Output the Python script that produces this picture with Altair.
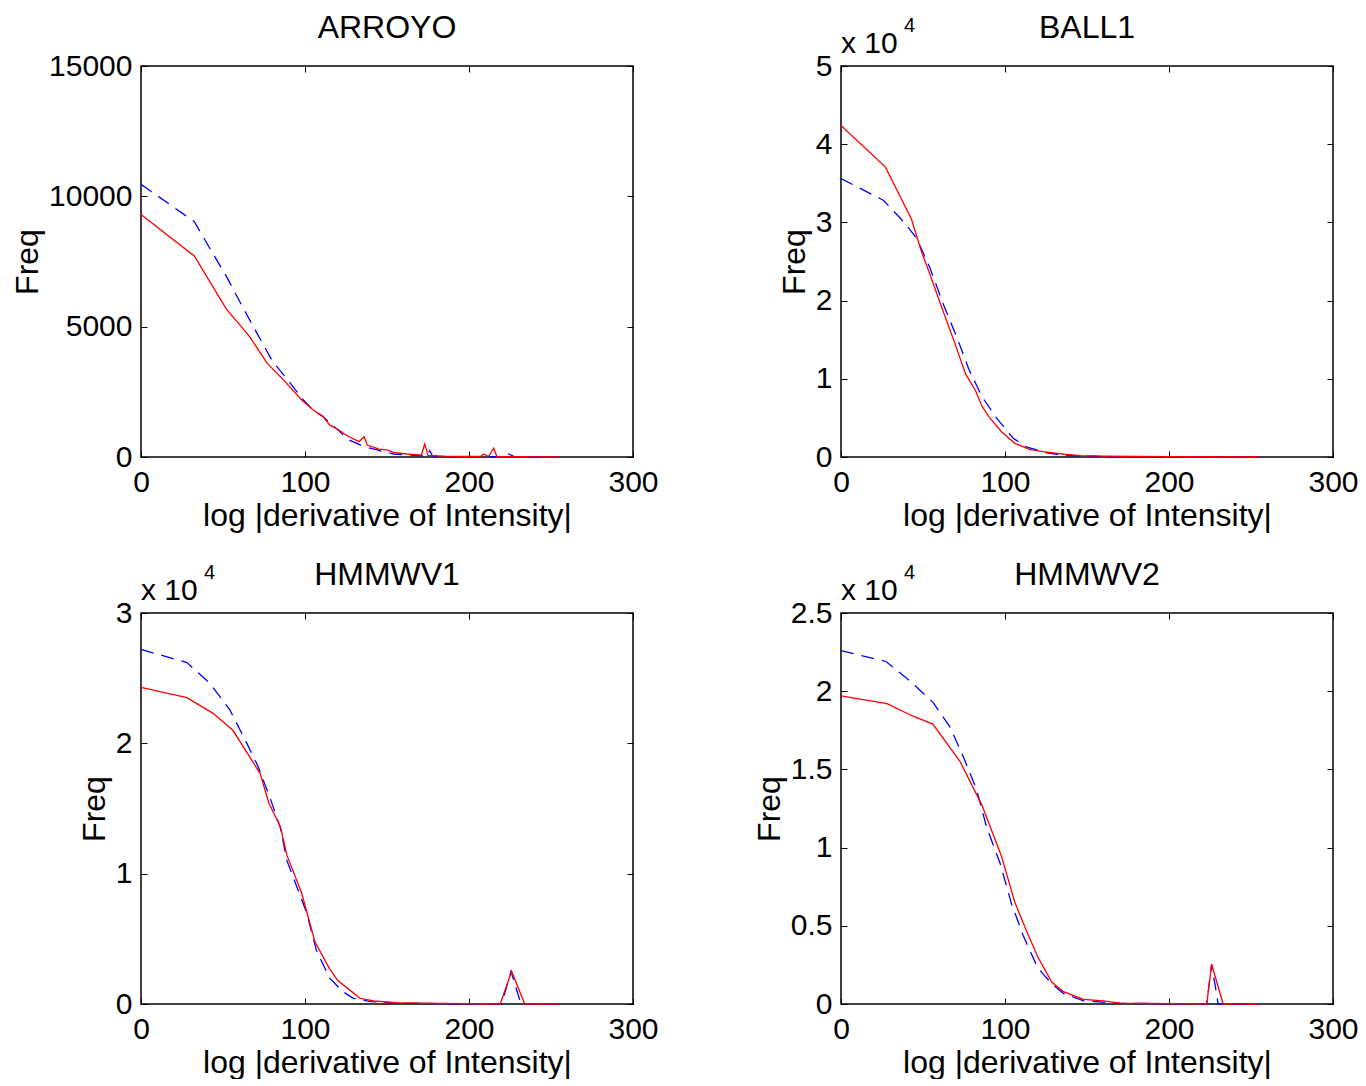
import altair as alt
import pandas as pd

FONT = "Liberation Sans"

# ---------------- data ----------------
panel_titles = ["ARROYO", "BALL1", "HMMWV1", "HMMWV2"]
divisors = [1, 10000, 10000, 10000]
y_max = [15000, 5, 3, 2.5]
y_ticks = [[0, 5000, 10000, 15000], [0, 1, 2, 3, 4, 5], [0, 1, 2, 3], [0, 0.5, 1, 1.5, 2, 2.5]]
x_ticks = [0, 100, 200, 300]
x_title = "log |derivative of Intensity|"
y_title = "Freq"

# ARROYO
arroyo_red_x = [0, 32.5, 52, 66, 77, 87, 98, 105, 111, 115, 120, 126, 133, 136, 138, 145, 150, 154, 162, 171, 173, 175, 185, 200, 207, 209, 212, 215, 217, 225, 240, 255]
arroyo_red_y = [9300, 7710, 5680, 4640, 3590, 2950, 2190, 1800, 1550, 1230, 1060, 805, 590, 780, 460, 300, 270, 180, 115, 75, 500, 60, 30, 20, 20, 115, 20, 335, 15, 10, 5, 0]
arroyo_blue_x = [0, 32.5, 42, 52, 61, 70.5, 80, 92, 98, 105, 111, 120, 126, 136, 144, 154, 164, 174, 176, 178, 200, 220, 224, 228, 255]
arroyo_blue_y = [10460, 9030, 8000, 6940, 5870, 4770, 3690, 2760, 2250, 1800, 1550, 1040, 680, 395, 270, 115, 77, 30, 240, 20, 10, 10, 115, 10, 0]

# BALL1
ball1_red_x = [0, 27, 43, 49, 54, 62, 69.5, 76, 82, 86, 90, 98, 106, 115, 123, 136, 146, 160, 200, 255]
ball1_red_y = [42400, 37100, 30400, 26300, 23500, 18800, 14500, 10600, 8500, 6500, 5200, 3200, 1750, 980, 680, 350, 180, 100, 50, 0]
ball1_blue_x = [0, 8.5, 26, 39, 46, 54, 63, 70.5, 78, 86, 95, 105, 113, 125, 136, 160, 255]
ball1_blue_y = [35600, 34700, 32800, 29900, 28000, 24300, 19200, 15400, 11200, 7700, 4950, 2400, 1300, 550, 200, 50, 0]

# HMMWV1
hmmwv1_red_x = [0, 28, 44, 56, 72.6, 78, 85, 89, 98, 106, 115, 120, 128.5, 133.5, 142, 156, 180, 219, 226, 234, 255]
hmmwv1_red_y = [24300, 23500, 22300, 21000, 17700, 15400, 13600, 11400, 8500, 4800, 2700, 1800, 950, 440, 230, 100, 50, 0, 2500, 0, 0]
hmmwv1_blue_x = [0, 28, 42, 54, 63, 71.5, 79, 85, 89, 95, 101, 107, 115, 123, 129.5, 140, 160, 220, 225.6, 231.7, 255]
hmmwv1_blue_y = [27200, 26200, 24600, 22600, 20400, 18200, 15700, 13500, 11000, 9000, 7000, 4100, 2000, 950, 440, 180, 50, 0, 2500, 0, 0]

# HMMWV2
hmmwv2_red_x = [0, 28, 44, 56, 72.6, 86, 98, 106, 113, 120, 128.5, 135.6, 148, 160, 170, 223, 226, 233, 255]
hmmwv2_red_y = [19700, 19200, 18400, 17900, 15500, 12700, 9400, 6500, 4700, 3000, 1400, 790, 300, 200, 50, 0, 2540, 0, 0]
hmmwv2_blue_x = [0, 27.4, 41.6, 56, 66.5, 74.6, 82.7, 88.8, 97, 104, 111, 120, 128.5, 135.6, 148, 170, 223, 226, 230, 255]
hmmwv2_blue_y = [22600, 21900, 20700, 19300, 17700, 15800, 13700, 11300, 9000, 6400, 4400, 2300, 1300, 680, 200, 50, 0, 2540, 0, 0]

series = [
    (arroyo_red_x, arroyo_red_y, arroyo_blue_x, arroyo_blue_y),
    (ball1_red_x, ball1_red_y, ball1_blue_x, ball1_blue_y),
    (hmmwv1_red_x, hmmwv1_red_y, hmmwv1_blue_x, hmmwv1_blue_y),
    (hmmwv2_red_x, hmmwv2_red_y, hmmwv2_blue_x, hmmwv2_blue_y),
]

W, H = 492, 391


def make_panel(i):
    rx, ry, bx, by = series[i]
    div = divisors[i]
    red_df = pd.DataFrame({"x": rx, "v": [v / div for v in ry]})
    blue_df = pd.DataFrame({"x": bx, "v": [v / div for v in by]})

    xscale = alt.Scale(domain=[0, 300], nice=False, zero=False)
    yscale = alt.Scale(domain=[0, y_max[i]], nice=False, zero=False)

    common_axis = dict(
        offset=-6, tickSize=6, tickColor="black", tickWidth=1,
        domain=False, grid=False, labelFlush=False, labelOverlap=False,
        labelFont=FONT, labelFontSize=30, labelColor="black",
        titleFont=FONT, titleFontSize=32, titleFontWeight="normal", titleColor="black",
        labelExpr="datum.value + ''",
    )

    x_main = alt.X("x:Q", scale=xscale, axis=alt.Axis(
        orient="bottom", values=x_ticks, labelPadding=10, titlePadding=3,
        title=x_title, **common_axis))
    y_main = alt.Y("v:Q", scale=yscale, axis=alt.Axis(
        orient="left", values=y_ticks[i], labelPadding=9, titlePadding=4,
        title=y_title, **common_axis))
    x_mirror = alt.X("x:Q", scale=xscale, axis=alt.Axis(
        orient="top", values=x_ticks, labels=False, title=None, **common_axis))
    y_mirror = alt.Y("v:Q", scale=yscale, axis=alt.Axis(
        orient="right", values=y_ticks[i], labels=False, title=None, **common_axis))

    blue = alt.Chart(blue_df).mark_line(
        color="#0000ff", strokeWidth=1.3, strokeDash=[13, 8]
    ).encode(x=x_mirror, y=y_mirror)
    red = alt.Chart(red_df).mark_line(
        color="#ff0000", strokeWidth=1.3
    ).encode(x=x_main, y=y_main)

    one = pd.DataFrame({"a": [0]})
    title_txt = alt.Chart(one).mark_text(
        font=FONT, fontSize=32, align="center", baseline="alphabetic", color="black"
    ).encode(x=alt.value(W / 2), y=alt.value(-28), text=alt.value(panel_titles[i]))

    layers = [blue, red, title_txt]
    if div != 1:
        base_txt = alt.Chart(one).mark_text(
            font=FONT, fontSize=30, align="left", baseline="alphabetic", color="black"
        ).encode(x=alt.value(0), y=alt.value(-13), text=alt.value("x 10"))
        exp_txt = alt.Chart(one).mark_text(
            font=FONT, fontSize=20, align="left", baseline="alphabetic", color="black"
        ).encode(x=alt.value(63), y=alt.value(-34), text=alt.value("4"))
        layers += [base_txt, exp_txt]

    return alt.layer(*layers).resolve_axis(x="independent", y="independent").properties(
        width=W, height=H,
    )


chart = alt.concat(
    *[make_panel(i) for i in range(4)],
    columns=2,
    spacing={"row": 156, "column": 208},
    bounds="flush",
).properties(
    padding={"left": 10, "top": 11, "right": 0, "bottom": 0},
    background="white",
).configure_view(stroke="black", strokeWidth=1.5)

chart.save("out.html", embed_options={"renderer": "svg", "actions": False})
